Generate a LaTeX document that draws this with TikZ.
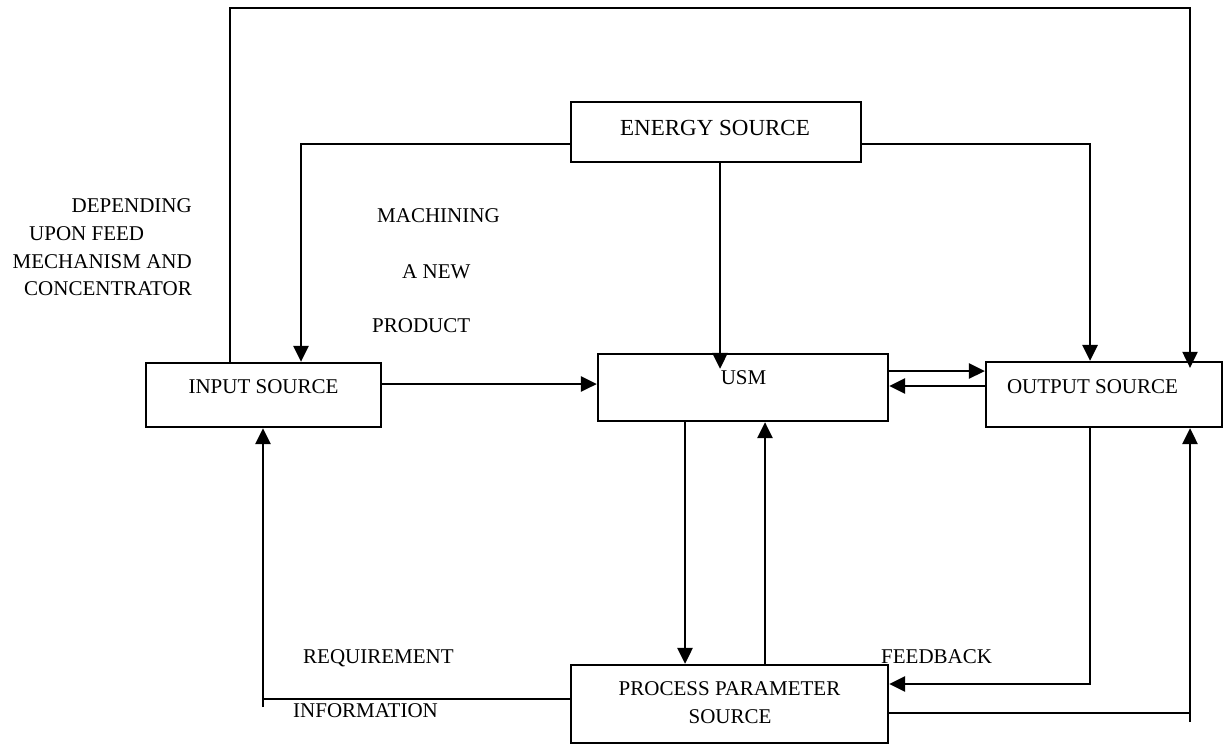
\documentclass[tikz,border=0pt]{standalone}
\usepackage{fontspec}
\setmainfont{Liberation Serif}
\usetikzlibrary{arrows.meta}
\begin{document}
\begin{tikzpicture}[x=1pt,y=-1pt,
  box/.style={draw, line width=2.2pt, rectangle, inner sep=0pt},
  txt/.style={inner sep=0pt, anchor=base, font=\fontsize{21}{25}\selectfont},
  link/.style={line width=2.8pt},
  thinlink/.style={line width=2pt},
  arr/.style={link, -{Triangle[length=16pt,width=15pt]}}]
\useasboundingbox (0,0) rectangle (1230,744);

% blocks
\node[box, minimum width=290pt, minimum height=60pt] (energy)  at (716,132)    {};
\node[box, minimum width=235pt, minimum height=64pt] (input)   at (263.5,395)  {};
\node[box, minimum width=290pt, minimum height=67pt] (usm)     at (743,387.5)  {};
\node[box, minimum width=236pt, minimum height=65pt] (output)  at (1104,394.5) {};
\node[box, minimum width=317pt, minimum height=78pt] (process) at (729.5,704)  {};

% block captions
\node[txt, font=\fontsize{23}{27}\selectfont] (energytxt) at (715,135) {ENERGY SOURCE};
\node[txt] (inputtxt)  at (263.5,393)  {INPUT SOURCE};
\node[txt] (usmtxt)    at (743.5,384)  {USM};
\node[txt] (outputtxt) at (1092.5,393) {OUTPUT SOURCE};
\node[txt] (proctxtA)  at (729.5,695)  {PROCESS PARAMETER};
\node[txt] (proctxtB)  at (730,723)    {SOURCE};

% free-standing notes
\node[txt, anchor=base east] (depA) at (192,212) {DEPENDING};
\node[txt, anchor=base west] (depB) at (29,240)  {UPON FEED};
\node[txt, anchor=base east] (depC) at (192,268) {MECHANISM AND};
\node[txt, anchor=base east] (depD) at (192,295) {CONCENTRATOR};
\node[txt, anchor=base west] (machA) at (377,222) {MACHINING};
\node[txt, anchor=base west] (machB) at (402,278) {A NEW};
\node[txt, anchor=base west] (machC) at (372,332) {PRODUCT};
\node[txt, anchor=base west] (reqA) at (303,663) {REQUIREMENT};
\node[txt, anchor=base west] (reqB) at (293,717) {INFORMATION};
\node[txt, anchor=base west] (fbtxt) at (881,663) {FEEDBACK};

% bend points
\coordinate (topL) at (230,8);
\coordinate (topR) at (1190,8);
\coordinate (eL) at (301,144);
\coordinate (eR) at (1090,144);
\coordinate (eD) at (720,0);
\coordinate (inU) at (0,384);
\coordinate (uoA) at (0,371);
\coordinate (uoB) at (0,386);
\coordinate (upA) at (685,0);
\coordinate (upB) at (765,0);
\coordinate (fb) at (1090,684);
\coordinate (po) at (1190,713);
\coordinate (poEnd) at (1190,722);
\coordinate (pi) at (263,699);
\coordinate (piEnd) at (263,707);

% connectors
\draw[arr, thinlink, shorten >=-7pt] (input.north -| topL) |- (topR) -- (output.north -| topR);
\draw[arr] (energy.west |- eL) -| (input.north -| eL);
\draw[arr] (energy.east |- eR) -| (output.north -| eR);
\draw[arr, shorten >=-16pt] (energy.south -| eD) -- (usm.north -| eD);
\draw[arr] (input.east |- inU) -- (usm.west |- inU);
\draw[arr] (usm.east |- uoA) -- (output.west |- uoA);
\draw[arr] (output.west |- uoB) -- (usm.east |- uoB);
\draw[arr] (usm.south -| upA) -- (process.north -| upA);
\draw[arr] (process.north -| upB) -- (usm.south -| upB);
\draw[arr] (output.south -| fb) |- (process.east |- fb);
\draw[thinlink] (process.east |- po) -- (po);
\draw[arr] (poEnd) -- (output.south -| poEnd);
\draw[thinlink] (process.west |- pi) -- (pi);
\draw[arr] (piEnd) -- (input.south -| piEnd);
\end{tikzpicture}
\end{document}
